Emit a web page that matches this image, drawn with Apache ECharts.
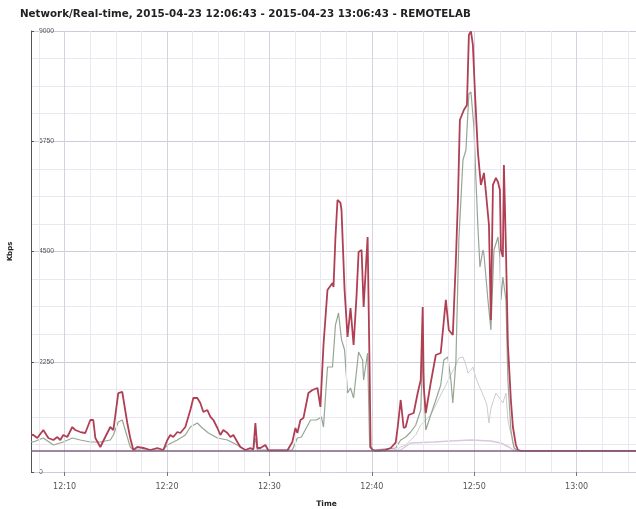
<!DOCTYPE html>
<html><head><meta charset="utf-8">
<script src="https://cdn.jsdelivr.net/npm/echarts@6/dist/echarts.min.js"></script>
<style>html,body{margin:0;padding:0;background:#fff}#c{width:636px;height:509px}</style>
</head><body><div id="c"></div>
<script>
// Time is in minutes after 12:00
const titleText = 'Network/Real-time, 2015-04-23 12:06:43 - 2015-04-23 13:06:43 - REMOTELAB';
const xMin = 6 + 43 / 60;
const xMaxVisible = 65.8; // right edge of the picture (axis runs to 13:06:43, cropped)
const xLabelMinutes = [10, 20, 30, 40, 50, 60];
const gridMinutes = [7.5, 10, 12.5, 15, 17.5, 20, 22.5, 25, 27.5, 30, 32.5, 35, 37.5, 40, 42.5, 45, 47.5, 50, 52.5, 55, 57.5, 60, 62.5, 65];
const yMax = 9000;
const yStep = 2250;

const red = [[6.72,760],[6.94,755],[7.33,694],[7.92,857],[8.41,694],[8.90,653],[9.29,714],[9.58,653],[9.87,755],[10.26,714],[10.75,918],[11.04,857],[11.53,816],[12.02,796],[12.51,1061],[12.80,1061],[13.00,694],[13.49,510],[13.97,714],[14.46,918],[14.76,857],[15.24,1612],[15.63,1633],[16.12,1000],[16.41,694],[16.71,449],[17.10,510],[17.68,490],[18.37,449],[19.05,490],[19.64,449],[20.03,653],[20.32,755],[20.61,714],[21.01,816],[21.30,796],[21.79,918],[22.28,1265],[22.57,1510],[22.96,1510],[23.25,1408],[23.55,1225],[23.94,1265],[24.24,1123],[24.53,1061],[24.92,898],[25.21,755],[25.50,857],[25.90,796],[26.19,714],[26.48,755],[26.87,612],[27.16,510],[27.65,449],[28.14,490],[28.43,460],[28.63,1000],[28.82,490],[29.12,490],[29.60,551],[29.90,440],[30.78,440],[31.75,440],[32.24,612],[32.54,898],[32.73,796],[33.03,1061],[33.32,1100],[33.81,1612],[34.20,1674],[34.69,1714],[34.98,1327],[35.28,2592],[35.67,3715],[36.16,3857],[36.26,3776],[36.45,4796],[36.65,5552],[36.75,5592],[36.94,5490],[37.04,5347],[37.34,3715],[37.63,2755],[37.92,3347],[38.22,2592],[38.51,3600],[38.71,4490],[39.00,4531],[39.20,3368],[39.59,4796],[39.79,2000],[39.88,510],[40.08,449],[40.37,430],[40.86,440],[41.35,450],[41.84,490],[42.33,600],[42.53,918],[42.82,1470],[43.11,898],[43.31,918],[43.60,1163],[44.09,1204],[44.48,1612],[44.78,1878],[44.97,3368],[45.07,1735],[45.27,1204],[45.75,1816],[46.25,2388],[46.73,2429],[47.23,3511],[47.52,2898],[47.91,2796],[48.21,4327],[48.41,5552],[48.60,7184],[48.99,7388],[49.29,7490],[49.48,8919],[49.68,8990],[49.87,8715],[50.07,7756],[50.36,6531],[50.65,5858],[50.95,6103],[51.14,5715],[51.44,5041],[51.63,3100],[51.83,5858],[52.12,6001],[52.32,5919],[52.51,5756],[52.61,4531],[52.80,4388],[52.90,6266],[53.10,4531],[53.29,2600],[53.58,1470],[53.78,918],[54.07,551],[54.27,449],[54.56,430],[66.72,430]];

const green = [[6.72,620],[6.94,612],[7.92,694],[8.90,551],[9.87,612],[10.75,694],[11.53,653],[12.51,612],[13.49,612],[14.46,653],[14.76,755],[15.24,1021],[15.63,1061],[16.12,714],[16.41,510],[16.71,449],[17.68,449],[19.64,449],[20.03,551],[21.01,653],[21.79,755],[22.28,918],[22.96,1000],[23.45,898],[24.04,796],[24.92,694],[25.90,653],[26.87,551],[27.65,449],[28.43,449],[28.63,694],[28.82,449],[32.24,449],[32.73,694],[33.13,714],[34.02,1061],[34.60,1061],[35.08,1123],[35.28,918],[35.67,2143],[36.16,2143],[36.45,3000],[36.75,3245],[37.04,2700],[37.34,2490],[37.63,1612],[37.92,1714],[38.22,1510],[38.71,2449],[39.10,2286],[39.20,1878],[39.59,2429],[39.79,510],[40.08,449],[42.33,490],[42.82,653],[43.31,714],[43.80,816],[44.29,959],[44.78,1265],[44.97,2388],[45.27,857],[45.75,1163],[46.25,1470],[46.73,1776],[47.03,2286],[47.42,2347],[47.72,1878],[47.91,1408],[48.21,2245],[48.50,4735],[48.90,6368],[49.19,6572],[49.48,7715],[49.68,7756],[49.97,7042],[50.17,5960],[50.36,5000],[50.56,4184],[50.85,4531],[50.95,4449],[51.34,3511],[51.63,2898],[51.93,4531],[52.32,4796],[52.51,4388],[52.61,3511],[52.80,3980],[53.10,3511],[53.29,1878],[53.58,857],[53.88,490],[54.27,430]];

const lightGray = [[40.08,430],[42.33,449],[42.82,510],[43.31,551],[43.80,653],[44.29,755],[44.78,959],[45.27,1061],[45.75,1163],[46.25,1367],[46.73,1572],[47.23,1776],[47.72,1980],[48.21,2184],[48.50,2327],[48.90,2347],[49.19,2184],[49.38,2020],[49.68,2082],[49.87,2143],[50.17,1918],[50.36,1816],[50.65,1674],[50.95,1531],[51.24,1367],[51.44,1000],[51.63,1300],[52.12,1612],[52.80,1408],[53.10,1612],[53.29,1061],[53.78,592],[54.07,430]];

const lilac = [[40.37,430],[42.82,449],[43.80,592],[46.05,612],[47.72,633],[49.68,653],[51.63,633],[52.61,592],[53.39,510],[53.78,449],[54.07,430]];

const baseline = [[6.72,430],[66.72,430]];

const FONT = 'DejaVu Sans';
const chart = echarts.init(document.getElementById('c'), null, {renderer: 'canvas'});

function fmtTime(v) {
  const h = 12 + Math.floor(v / 60);
  const m = Math.round(v % 60);
  return h + ':' + (m < 10 ? '0' + m : m);
}

const vGrid = gridMinutes.map(m => ({
  xAxis: m,
  lineStyle: {color: (m % 10 === 0) ? '#d6d3e0' : '#e9e7ef', width: 1, type: 'solid'}
}));

function lineSeries(name, data, color, width, z) {
  return {
    name, type: 'line', data, showSymbol: false, symbol: 'none',
    lineStyle: {color, width}, itemStyle: {color}, z, silent: true, animation: false
  };
}

chart.setOption({
  animation: false,
  backgroundColor: '#ffffff',
  title: {
    text: titleText, left: 15, top: 4,
    textStyle: {fontFamily: FONT, fontSize: 10.3, fontWeight: 'bold', color: '#222'}
  },
  grid: {left: 31, top: 31, right: 0, height: 441, containLabel: false, outerBoundsMode: 'none'},
  xAxis: {
    type: 'value', min: xMin, max: xMaxVisible,
    name: 'Time', nameLocation: 'middle', nameGap: 28,
    nameTextStyle: {fontFamily: FONT, fontSize: 7.5, fontWeight: 'bold', color: '#222', padding: [0, 14, 0, 0]},
    axisLine: {show: false},
    axisTick: {show: true, customValues: xLabelMinutes, length: 4, lineStyle: {color: '#777'}},
    axisLabel: {customValues: xLabelMinutes, formatter: fmtTime, fontFamily: FONT, fontSize: 8, color: '#555', margin: 11},
    splitLine: {show: false}
  },
  yAxis: {
    type: 'value', min: 0, max: yMax, interval: yStep,
    name: 'Kbps', nameLocation: 'middle', nameRotate: 90, nameGap: 17,
    nameTextStyle: {fontFamily: FONT, fontSize: 7, fontWeight: 'bold', color: '#222'},
    axisLine: {show: true, lineStyle: {color: '#555', width: 1}},
    axisTick: {show: true, inside: true, length: 3, lineStyle: {color: '#555'}},
    axisLabel: {inside: true, margin: 8, formatter: v => String(v), fontFamily: 'Liberation Sans', fontSize: 6.8, color: '#555'},
    splitLine: {show: true, lineStyle: {color: '#cfcbdc', width: 1}},
    minorTick: {show: false, splitNumber: 4},
    minorSplitLine: {show: true, lineStyle: {color: '#e9e7ef', width: 1}}
  },
  series: [
    {
      type: 'line', data: [], silent: true, z: 1, animation: false,
      markLine: {silent: true, symbol: ['none', 'none'], label: {show: false}, animation: false, data: vGrid}
    },
    lineSeries('lilac', lilac, '#d9c8dd', 1.5, 2),
    lineSeries('lightGray', lightGray, '#cdcdcd', 1, 3),
    lineSeries('green', green, '#96a694', 1.2, 4),
    lineSeries('red', red, '#b03f54', 1.8, 5),
    lineSeries('baseline', baseline, '#7e5f86', 1.4, 6)
  ]
});
</script></body></html>
